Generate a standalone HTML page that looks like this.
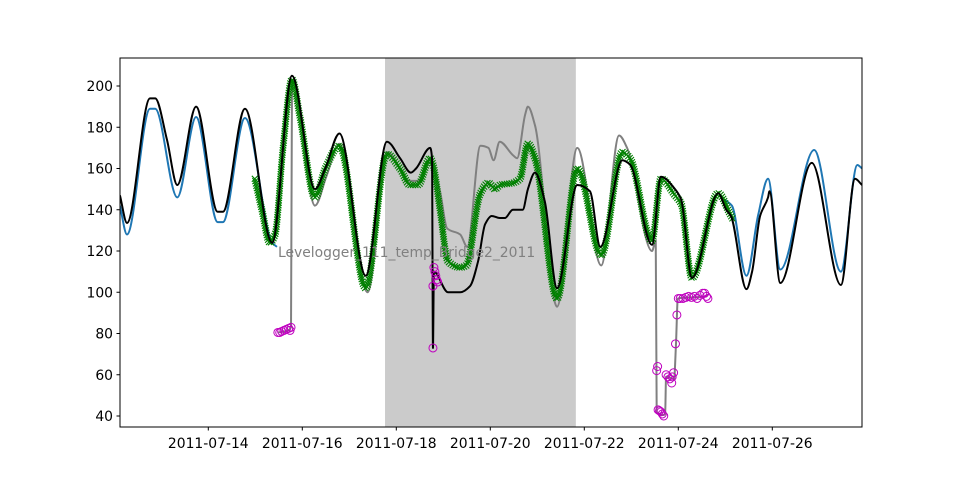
<!DOCTYPE html>
<html><head><meta charset="utf-8"><style>
html,body{margin:0;padding:0;background:#fff;}
svg{display:block;font-family:"DejaVu Sans","Liberation Sans",sans-serif;}
</style></head><body>
<svg id="chart" width="958" height="480" viewBox="0 0 958 480" xmlns="http://www.w3.org/2000/svg">
<rect x="0" y="0" width="958" height="480" fill="#fff"/>
<g id="plot"></g>
</svg>
<script>
// ---- data ----
const shadeRange = [17.76, 21.82];
const xTickDays = [14, 16, 18, 20, 22, 24, 26];
const xTickLabels = ["2011-07-14","2011-07-16","2011-07-18","2011-07-20","2011-07-22","2011-07-24","2011-07-26"];
const yTicks = [40, 60, 80, 100, 120, 140, 160, 180, 200];

const blackT = [12.12,12.27,12.76,12.87,13.12,13.34,13.74,14.20,14.31,14.78,15.36,15.78,16.27,16.49,16.79,17.35,17.80,18.08,18.31,18.42,18.72,18.76,18.78,18.80,19.10,19.36,19.57,19.74,19.89,20.03,20.20,20.31,20.48,20.69,20.80,20.95,21.16,21.42,21.85,22.12,22.34,22.81,22.97,23.44,23.63,23.93,24.06,24.29,24.85,25.02,25.12,25.45,25.57,25.74,25.91,25.94,26.17,26.84,27.46,27.76,27.91];
const blackV = [147,133.6,194,194,174,152,190,139,139,189,124,205,150,160,177,108,173,165,158,160,170,165,73,110,100,100,103,115,133,137,136,136,140,140,150,158,144,102,152,149,122,164,162,123,156,150,145,107,148,140,137,101.5,110,137,146,149,104.5,162.7,103.5,155,152];

const blueT1 = [12.12,12.27,12.76,12.87,13.34,13.74,14.20,14.31,14.78,15.36,15.46];
const blueV1 = [142,128,189,189,146,185,134,134,184.5,124,122];
const blueT2 = [25.00,25.14,25.45,25.70,25.91,26.17,26.89,27.46,27.81,27.91];
const blueV2 = [144.7,142,108,137.5,155,111,169,110,161.7,160];

const grayT = [15.48,15.63,15.76,15.78,15.80,16.27,16.51,16.79,17.39,17.80,18.29,18.46,18.72,18.76,18.93,19.08,19.36,19.51,19.79,19.96,20.07,20.20,20.48,20.57,20.74,20.80,20.95,21.42,21.85,22.36,22.74,22.91,23.44,23.52,23.54,23.69,23.72,23.74,23.91,23.95,23.99,24.59,24.63];
const grayV = [80.5,81,83,198,203,142,156,172,100,168,154,154,164,162,149,131,128,122,171,170,164,173,166.5,165,186,190,181,93,170,113,176,170,120,125,42,40.5,41,59,58,74.5,97,98,99];

const greenT = [14.99,15.14,15.31,15.42,15.59,15.78,15.95,16.27,16.49,16.79,17.35,17.80,18.08,18.29,18.46,18.72,18.78,18.93,19.10,19.36,19.49,19.79,19.96,20.10,20.20,20.48,20.63,20.80,20.95,21.42,21.85,22.36,22.81,22.97,23.44,23.63,23.93,24.06,24.29,24.85,25.10,25.17];
const greenV = [155,140,124,128,170,203,185,146,160,171,102,167,160,152,152,165,162,140,115,112,113,148,153,150,152,153,155,172,165,97,160,118,168,165,125,155,147,143,107,148,138,135];

const flagT = [15.48,15.52,15.56,15.61,15.66,15.71,15.76,15.74,18.78,18.78,18.80,18.82,18.84,18.86,18.88,23.54,23.56,23.57,23.60,23.63,23.66,23.69,23.74,23.78,23.82,23.86,23.87,23.90,23.94,23.97,24.00,24.04,24.10,24.16,24.22,24.28,24.34,24.40,24.46,24.52,24.56,24.60,24.63];
const flagV = [80.5,80.5,81,81.5,82,82.5,83,81.5,73,103,112,110,108,106,105,62,64,43,42.5,42,41,40,60,59,58,56,59,61,75,89,97,97,97,97.5,98,97.5,98,97,98.5,99.5,99.5,98,97];

// ---- scales ----
const X0 = 120, X1 = 862, Y0 = 58, Y1 = 427;
function xs(d){ return 208.3 + (d - 14) * 47; }
function ys(v){ return 416 - (v - 40) * 2.0625; }

const NS = "http://www.w3.org/2000/svg";
const plot = document.getElementById('plot');
function mk(tag, attrs, parent){
  const e = document.createElementNS(NS, tag);
  for (const k in attrs) e.setAttribute(k, attrs[k]);
  (parent || plot).appendChild(e);
  return e;
}

function monoPath(T, V){
  const px = T.map(xs), py = V.map(ys), n = px.length;
  if (n < 2) return "";
  const dx = [], s = [];
  for (let i = 0; i < n - 1; i++){ dx[i] = Math.max(px[i+1]-px[i], 1e-6); s[i] = (py[i+1]-py[i]) / dx[i]; }
  const m = [s[0]];
  for (let i = 1; i < n - 1; i++){
    if (s[i-1] * s[i] <= 0) m[i] = 0;
    else { const w1 = 2*dx[i] + dx[i-1], w2 = dx[i] + 2*dx[i-1]; m[i] = (w1 + w2) / (w1/s[i-1] + w2/s[i]); }
  }
  m[n-1] = s[n-2];
  let d = "M" + px[0].toFixed(2) + "," + py[0].toFixed(2);
  for (let i = 0; i < n - 1; i++){
    const h = dx[i] / 3;
    d += " C" + (px[i]+h).toFixed(2) + "," + (py[i]+m[i]*h).toFixed(2) + " " + (px[i+1]-h).toFixed(2) + "," + (py[i+1]-m[i+1]*h).toFixed(2) + " " + px[i+1].toFixed(2) + "," + py[i+1].toFixed(2);
  }
  return d;
}

const defs = mk('defs', {});
const cp = mk('clipPath', {id:'clip'}, defs);
mk('rect', {x:X0, y:Y0, width:X1-X0, height:Y1-Y0}, cp);

const shade = mk('rect', {x:xs(shadeRange[0]), y:Y0, width:xs(shadeRange[1])-xs(shadeRange[0]), height:Y1-Y0, fill:'#cbcbcb'});



const g = mk('g', {'clip-path':'url(#clip)'});



const b1 = mk('path', {d:monoPath(blueT1, blueV1), fill:'none', stroke:'#1f77b4', 'stroke-width':2}, g);


const b2 = mk('path', {d:monoPath(blueT2, blueV2), fill:'none', stroke:'#1f77b4', 'stroke-width':2}, g);



const gr = mk('path', {d:monoPath(grayT, grayV), fill:'none', stroke:'#808080', 'stroke-width':2}, g);



const gp = mk('path', {d:monoPath(greenT, greenV), fill:'none', stroke:'#008000', 'stroke-width':1, opacity:0.6}, g);


const gm = mk('g', {stroke:'#008000', 'stroke-width':1.1}, g);


const L = gp.getTotalLength();
for (let l = 0; l <= L; l += 2.4){
  const p = gp.getPointAtLength(l);
  const r = 3;
  const mkx = mk('path', {d:`M${p.x-r},${p.y-r}L${p.x+r},${p.y+r}M${p.x-r},${p.y+r}L${p.x+r},${p.y-r}`}, gm);
  
  
}

const bl = mk('path', {d:monoPath(blackT, blackV), fill:'none', stroke:'#000', 'stroke-width':2}, g);



const fg = mk('g', {fill:'none', stroke:'#bf00bf', 'stroke-width':1}, g);


for (let i = 0; i < flagT.length; i++){
  const c = mk('circle', {cx:xs(flagT[i]), cy:ys(flagV[i]), r:4}, fg);
  
  
}

const ann = mk('text', {x:278, y:257, 'font-size':13.9, fill:'#808080'});
ann.textContent = 'Levelogger_111_temp_Bridge2_2011';



const fr = mk('rect', {x:X0, y:Y0, width:X1-X0, height:Y1-Y0, fill:'none', stroke:'#000', 'stroke-width':1});



for (const v of yTicks){
  const y = ys(v);
  const t = mk('line', {x1:X0-3.5, x2:X0, y1:y, y2:y, stroke:'#000', 'stroke-width':1});
  
  
  const lb = mk('text', {x:X0-7, y:y+5, 'font-size':13.9, 'text-anchor':'end', fill:'#000'});
  lb.textContent = v;
  
  
}
for (let i = 0; i < xTickDays.length; i++){
  const x = xs(xTickDays[i]);
  const t = mk('line', {x1:x, x2:x, y1:Y1, y2:Y1+3.5, stroke:'#000', 'stroke-width':1});
  
  
  const lb = mk('text', {x:x, y:Y1+21, 'font-size':13.9, 'text-anchor':'middle', fill:'#000'});
  lb.textContent = xTickLabels[i];
  
  
}
</script>
</body></html>
